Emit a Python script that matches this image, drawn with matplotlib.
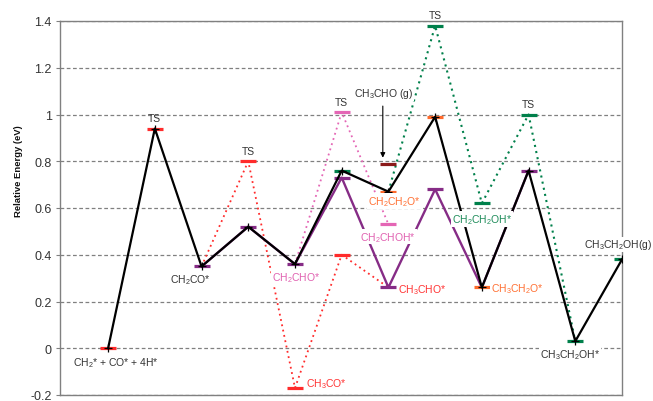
import matplotlib
matplotlib.use("Agg")
import matplotlib.pyplot as plt
from matplotlib.ticker import FuncFormatter

plt.rcParams["font.family"] = ["Liberation Sans", "DejaVu Sans"]
plt.rcParams["mathtext.fontset"] = "custom"
plt.rcParams["mathtext.rm"] = "Liberation Sans"
plt.rcParams["mathtext.it"] = "Liberation Sans:italic"
plt.rcParams["mathtext.bf"] = "Liberation Sans:bold"

# Reaction coordinate stages and relative energies (eV)
main_x = [1, 2, 3, 4, 5, 6, 7, 8, 9, 10, 11, 12]
main_e = [0.00, 0.94, 0.35, 0.52, 0.36, 0.76, 0.67, 0.99, 0.26, 0.76, 0.03, 0.38]

purple_x = [3, 4, 5, 6, 7, 8, 9, 10]
purple_e = [0.35, 0.52, 0.36, 0.73, 0.26, 0.68, 0.26, 0.76]

red_x = [3, 4, 5, 6, 7]
red_e = [0.35, 0.80, -0.17, 0.40, 0.26]

pink_x = [5, 6, 7]
pink_e = [0.36, 1.01, 0.53]

green_x = [7, 8, 9, 10, 11]
green_e = [0.67, 1.38, 0.62, 1.00, 0.03]

# Energy levels drawn as short bars, grouped by colour
red_lvl_x = [1, 2, 4, 5, 6]
red_lvl_e = [0.00, 0.94, 0.80, -0.17, 0.40]
purple_lvl_x = [3, 4, 5, 6, 7, 8, 10]
purple_lvl_e = [0.35, 0.52, 0.36, 0.73, 0.26, 0.68, 0.76]
pink_lvl_x = [6, 7]
pink_lvl_e = [1.01, 0.53]
green_lvl_x = [6, 8, 9, 10, 11, 12]
green_lvl_e = [0.76, 1.38, 0.62, 1.00, 0.03, 0.38]
orange_lvl_x = [7, 8, 9]
orange_lvl_e = [0.67, 0.99, 0.26]
brown_lvl_x = [7]
brown_lvl_e = [0.79]

ts_x = [2, 4, 6, 8, 10]
ts_e = [0.94, 0.80, 1.01, 1.38, 1.00]

RED = "#FF2B2B"
PURPLE = "#862C86"
PINK = "#E466B5"
GREEN = "#00804B"
ORANGE = "#FF6A2B"
BROWN = "#8B1A1A"
TXT = "#333333"

fig = plt.figure(figsize=(6.53, 4.02), dpi=100)
ax = fig.add_axes([60 / 653, 6 / 402, 562 / 653, 374 / 402])
ax.set_xlim(-0.03, 12)
ax.set_ylim(-0.2, 1.4)

ax.set_yticks([-0.2, 0, 0.2, 0.4, 0.6, 0.8, 1.0, 1.2, 1.4])
ax.yaxis.set_major_formatter(FuncFormatter(lambda v, p: f"{v:g}"))
ax.set_xticks([])
ax.tick_params(axis="y", direction="out", length=3, color="#808080",
               labelsize=9, labelcolor=TXT, pad=3)
ax.yaxis.grid(True, linestyle=(0, (3, 2)), color="#808080", lw=0.9, zorder=0)
ax.set_axisbelow(True)
for s in ax.spines.values():
    s.set_color("#808080")
    s.set_linewidth(1.0)

ax.set_ylabel("Relative Energy (eV)", fontsize=6.8, fontweight="bold", color="#111111")
ax.yaxis.set_label_coords(-0.066, 0.60)

dot = (0, (1, 2))
ax.plot(red_x, red_e, color=RED, lw=1.3, ls=dot, zorder=2)
ax.plot(pink_x, pink_e, color=PINK, lw=1.3, ls=dot, zorder=2)
ax.plot(green_x, green_e, color=GREEN, lw=1.5, ls=dot, zorder=2)
ax.plot(purple_x, purple_e, color=PURPLE, lw=1.7, zorder=3)

bar_kw = dict(ls="none", marker="_", markersize=11.5, markeredgewidth=2.3, zorder=4)
ax.plot(red_lvl_x, red_lvl_e, color=RED, **bar_kw)
ax.plot(purple_lvl_x, purple_lvl_e, color=PURPLE, **bar_kw)
ax.plot(pink_lvl_x, pink_lvl_e, color=PINK, **bar_kw)
ax.plot(green_lvl_x, green_lvl_e, color=GREEN, **bar_kw)
ax.plot(orange_lvl_x, orange_lvl_e, color=ORANGE, **bar_kw)
ax.plot(brown_lvl_x, brown_lvl_e, color=BROWN, **bar_kw)

ax.plot(main_x, main_e, color="black", lw=1.6, zorder=5,
        marker="+", markersize=6, markeredgewidth=0.9)

for x, e in zip(ts_x, ts_e):
    ax.text(x, e + 0.045, "TS", ha="center", va="center", fontsize=7.5, color=TXT, zorder=7)

box = dict(facecolor="white", edgecolor="none", pad=0.6)
labels = [
    (1.16, -0.058, r"CH$_2$* + CO* + 4H*", TXT, "center"),
    (2.77, 0.294, r"CH$_2$CO*", TXT, "center"),
    (5.03, 0.303, r"CH$_2$CHO*", "#E060B0", "center"),
    (5.23, -0.147, r"CH$_3$CO*", "#FF3333", "left"),
    (6.89, 1.093, r"CH$_3$CHO (g)", TXT, "center"),
    (7.12, 0.629, r"CH$_2$CH$_2$O*", "#FF7033", "center"),
    (7.00, 0.477, r"CH$_2$CHOH*", "#E060B0", "center"),
    (7.20, 0.251, r"CH$_3$CHO*", "#FF3333", "left"),
    (9.00, 0.552, r"CH$_2$CH$_2$OH*", "#1E8C5A", "center"),
    (9.20, 0.258, r"CH$_3$CH$_2$O*", "#FF7033", "left"),
    (10.88, -0.024, r"CH$_3$CH$_2$OH*", TXT, "center"),
    (11.92, 0.444, r"CH$_3$CH$_2$OH(g)", TXT, "center"),
]
for x, y, s, c, ha in labels:
    ax.text(x, y, s, ha=ha, va="center", fontsize=7.5, color=c, bbox=box, zorder=6)

ax.annotate("", xy=(6.88, 0.815), xytext=(6.88, 1.036),
            arrowprops=dict(arrowstyle="-|>", color="black", lw=0.8,
                            mutation_scale=7, shrinkA=0, shrinkB=0), zorder=6)

fig.savefig("out.png", dpi=100)
